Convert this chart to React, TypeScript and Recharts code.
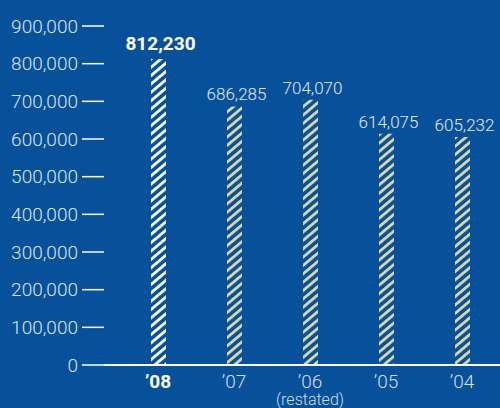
import { BarChart, Bar, XAxis, YAxis, Cell, LabelList } from "recharts"

const years = ["\u201908", "\u201907", "\u201906", "\u201905", "\u201904"]
const subLabels = ["", "", "(restated)", "", ""]
const totals = [812230, 686285, 704070, 614075, 605232]
const yTicks = [0, 100000, 200000, 300000, 400000, 500000, 600000, 700000, 800000, 900000]

const data = years.map((y, i) => ({ year: y, sub: subLabels[i], total: totals[i] }))

const BG = "#07519b"
const FONT = "Roboto, sans-serif"

function XTick({ x, y, payload, index }: any) {
    const first = index === 0
    return (
        <g>
            <text x={x} y={y + 15} textAnchor="middle" fill={first ? "#ffffff" : "#d3ddec"}
                fontSize={19} fontWeight={first ? 700 : 300} fontFamily={FONT}>
                {payload.value}
            </text>
            {data[index]?.sub ? (
                <text x={x} y={y + 32} textAnchor="middle" fill="#d3ddec" fontSize={16}
                    fontWeight={300} fontFamily={FONT}>
                    {data[index].sub}
                </text>
            ) : null}
        </g>
    )
}

function ValueLabel({ x, y, width, value, index }: any) {
    const first = index === 0
    return (
        <text x={x + width / 2 + 2} y={y - (first ? 9 : 6)} textAnchor="middle"
            fill={first ? "#ffffff" : "#e3e9f2"} fontSize={first ? 19 : 17}
            fontWeight={first ? 700 : 300} fontFamily={FONT}>
            {value.toLocaleString("en-US")}
        </text>
    )
}

export default function App() {
    return (
        <div style={{ position: "fixed", left: 0, top: 0, width: 500, height: 408, background: BG }}>
            <BarChart width={500} height={408} data={data}
                margin={{ top: 26, right: 0, left: 0, bottom: 0 }}>
                <defs>
                    <pattern id="hatchWhite" patternUnits="userSpaceOnUse" width={8} height={6.4}
                        patternTransform="rotate(-40)">
                        <rect x={0} y={0} width={8} height={2.8} fill="#ffffff" />
                    </pattern>
                    <pattern id="hatchBeige" patternUnits="userSpaceOnUse" width={8} height={6.4}
                        patternTransform="rotate(-40)">
                        <rect x={0} y={0} width={8} height={2.8} fill="#dcd6a4" />
                    </pattern>
                </defs>
                <XAxis dataKey="year" height={43} tickLine={false}
                    axisLine={{ stroke: "#ffffff", strokeWidth: 2 }}
                    padding={{ left: 16, right: 0 }} tick={<XTick />} interval={0} />
                <YAxis type="number" domain={[0, 900000]} ticks={yTicks} width={104}
                    axisLine={false} tickSize={22} tickMargin={4}
                    tickLine={{ stroke: "#ffffff", strokeWidth: 1.5 }}
                    tick={{ fill: "#dde5ef", fontSize: 19, fontWeight: 300, fontFamily: FONT }}
                    tickFormatter={(v: number) => v.toLocaleString("en-US")} />
                <Bar dataKey="total" barSize={15} isAnimationActive={false}>
                    {data.map((d, i) => (
                        <Cell key={d.year} fill={i === 0 ? "url(#hatchWhite)" : "url(#hatchBeige)"} />
                    ))}
                    <LabelList dataKey="total" content={<ValueLabel />} />
                </Bar>
            </BarChart>
        </div>
    )
}
